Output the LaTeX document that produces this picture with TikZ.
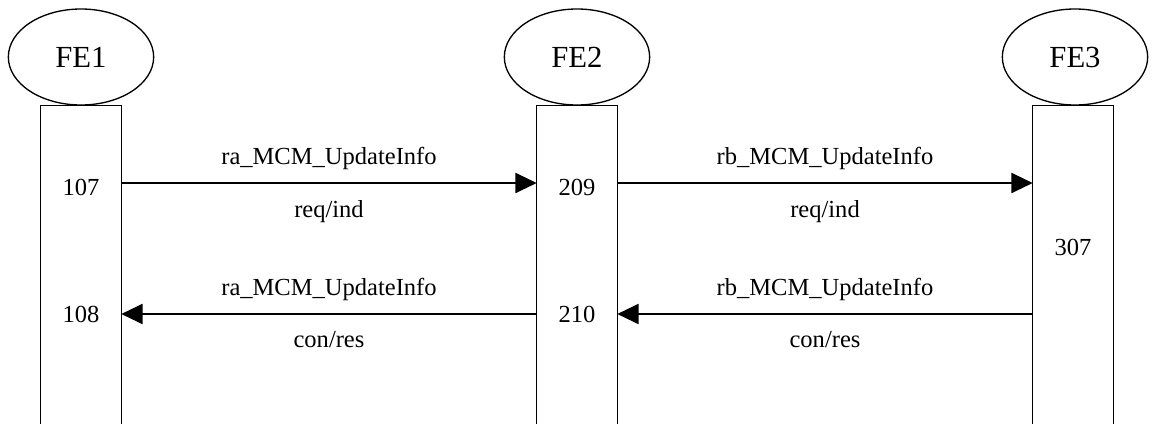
\documentclass[tikz,border=0pt]{standalone}
\usepackage{fontspec}
\setmainfont{Liberation Serif}
\usetikzlibrary{shapes.geometric,arrows.meta}

\begin{document}
\begin{tikzpicture}[x=0.75pt,y=0.75pt,yscale=-1,xscale=1,
    entity/.style={ellipse,draw,line width=1pt,minimum width=109pt,minimum height=72pt,inner sep=0pt,font=\fontsize{23}{27}\selectfont},
    lifeline/.style={rectangle,minimum width=60pt,minimum height=239pt,inner sep=0pt},
    lbl/.style={font=\fontsize{18.4}{22}\selectfont,inner sep=0pt},
    msg/.style={line width=1.6pt,-{Triangle[length=16pt,width=15pt]}}]
    \useasboundingbox (0,0) rectangle (1153,424);

    %Entities
    \node [entity] (fe1) at (81,57) {FE1};
    \node [entity] (fe2) at (577,57) {FE2};
    \node [entity] (fe3) at (1075,57) {FE3};

    %Lifelines (open at the bottom)
    \node [lifeline] (box1) at (81,265) {};
    \node [lifeline] (box2) at (577,265) {};
    \node [lifeline] (box3) at (1073,265) {};
    \foreach \b in {box1,box2,box3}
        \draw [line width=1pt] (\b.south west) -- (\b.north west) -- (\b.north east) -- (\b.south east);

    %Numbers
    \node [lbl] (n107) at (81,187) {107};
    \node [lbl] (n108) at (81,314) {108};
    \node [lbl] (n209) at (577,187) {209};
    \node [lbl] (n210) at (577,314) {210};
    \node [lbl] (n307) at (1073,247) {307};

    %Messages
    \coordinate (m1) at (0,183);
    \coordinate (m2) at (0,314);
    \draw [msg] (box1.east |- m1) -- node [lbl,above=9.5pt] {ra\_MCM\_UpdateInfo} node [lbl,below=12pt] {req/ind} (box2.west |- m1);
    \draw [msg] (box2.east |- m1) -- node [lbl,above=9.5pt] {rb\_MCM\_UpdateInfo} node [lbl,below=12pt] {req/ind} (box3.west |- m1);
    \draw [msg] (box2.west |- m2) -- node [lbl,above=9.5pt] {ra\_MCM\_UpdateInfo} node [lbl,below=12pt] {con/res} (box1.east |- m2);
    \draw [msg] (box3.west |- m2) -- node [lbl,above=9.5pt] {rb\_MCM\_UpdateInfo} node [lbl,below=12pt] {con/res} (box2.east |- m2);
\end{tikzpicture}
\end{document}
